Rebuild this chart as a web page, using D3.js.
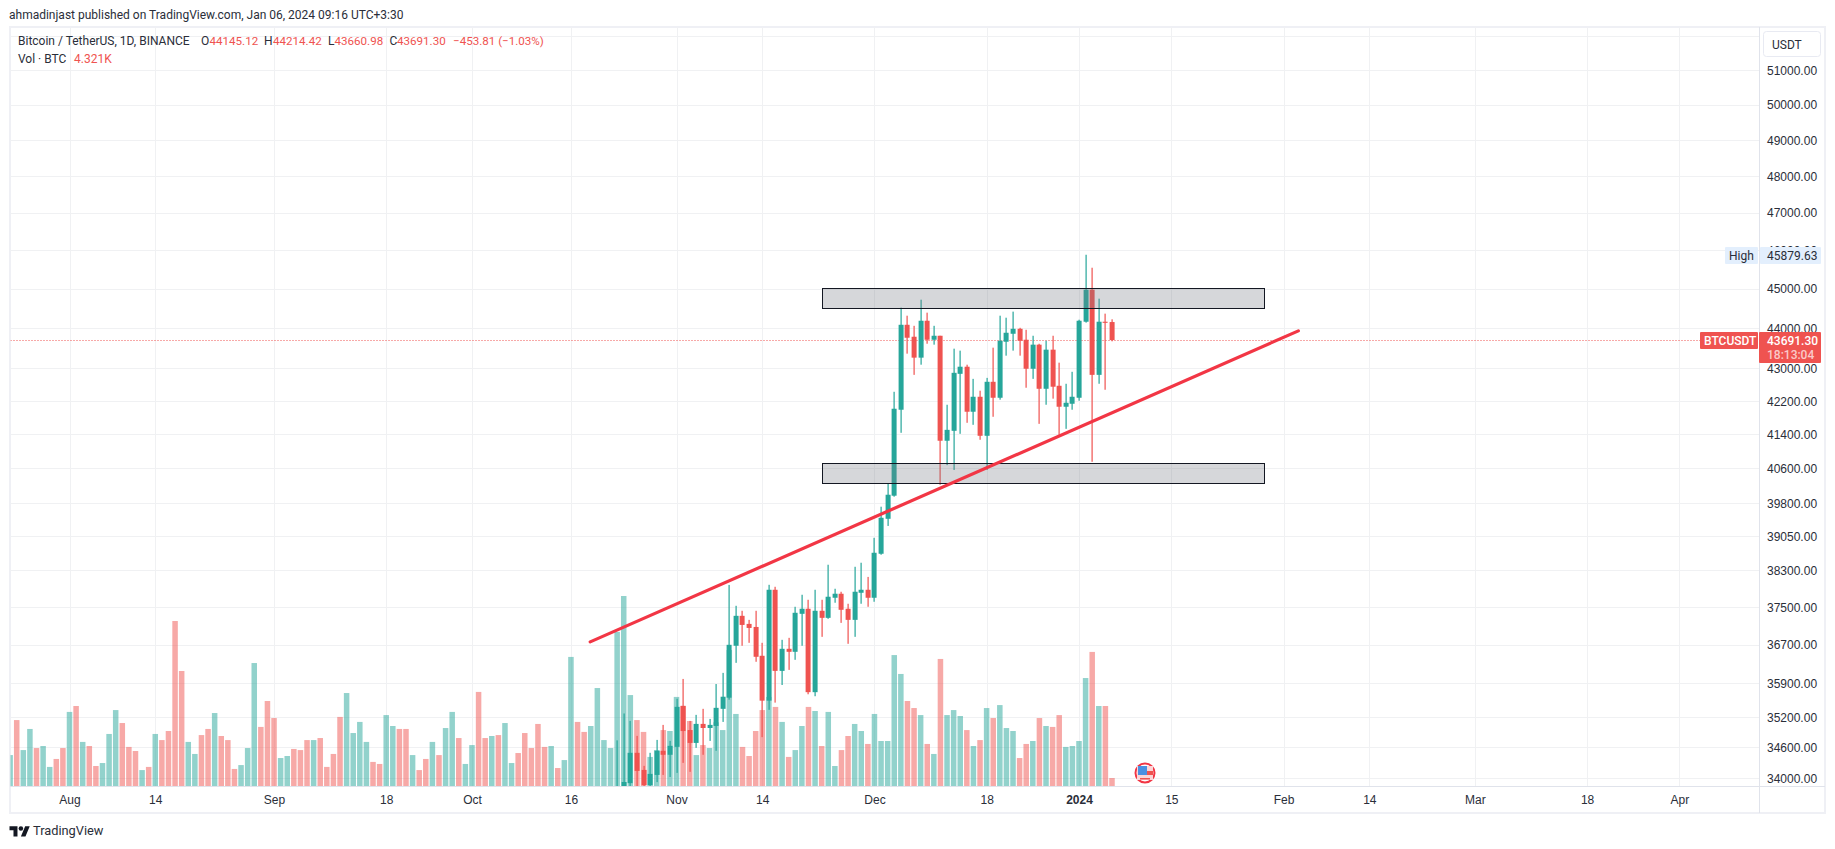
<!DOCTYPE html>
<html>
<head>
<meta charset="utf-8">
<title>BTCUSDT</title>
<script src="https://cdn.jsdelivr.net/npm/d3@7"></script>
<style>
html, body { margin: 0; padding: 0; background: #fff; overflow: hidden; }
svg { display: block; font-family: Roboto, sans-serif; font-size: 12px; }
.axis text { fill: #2a2e39; font-size: 12px; }
.axis path, .axis line { display: none; }
</style>
</head>
<body>
<svg width="1835" height="849"></svg>
<script>
// volume in thousands of BTC, one per day from 2023-07-23 to 2024-01-06
var volumeStart = "2023-07-23";
var volumes = [
  16.7,35.6,19.4,30.8,20.5,21.6,10.3,14.6,20.5,
  40,43.2,23.8,21.6,10.8,12.4,28.1,41,34,21.1,18.9,8.6,10.3,28.1,24.8,29.7,89.1,62.1,23.8,17.3,27.5,30.8,39.4,27,24.8,9.2,11.3,20.5,66.4,31.9,45.9,
  36.7,15.1,16.2,20,19.4,24.8,24.8,25.9,10.3,17.3,37.3,50.2,28.6,34.6,23.8,13,11.9,38.3,32.4,30.8,30.8,16.7,8.6,14.6,23.8,16.7,31.3,40,25.9,11.9,
  22.1,50.8,25.9,27,27.5,34,12.4,17.8,28.6,20.5,33.5,21.1,21.6,9.7,14,69.7,34.6,29.2,32.4,52.9,24.8,20.5,83.2,102.6,49.1,35.6,29.2,15.7,19.4,30.2,29.7,
  48.1,43.2,35.1,16.7,22.1,20.5,34.4,30.2,73.4,38.9,21.1,16.2,29.7,41,48.1,42.7,34.6,15.7,19.4,32.4,42.7,40.5,21.6,40,10.8,19.4,27,33.5,29.7,22.7,
  38.9,24.3,24.3,70.7,60.5,45.9,42.1,38.3,22.7,17.3,68.6,38.3,41,37.8,30.2,21.6,24.8,42.1,36.7,43.7,31.3,29.7,15.1,22.7,24.3,36.7,32.4,31.9,38.3,21.1,21.6,
  24.3,58.3,72.4,43.2,43.2,4.321
];
// t = up day, r = down day, same order as volumes
var volumeSides = ("trttrttrr" +
  "trtrrtttrrrtrtrrrrttrrtrrrtttrr" +
  "rttrrrtrrrrttttrrttrrtrrtrttrt" +
  "trrtrttrrrrrtrttrrttttttt" + "rrttrt" +
  "trrtrtttttrrrrtrtrttrtrttrrttr" +
  "tttttrrtrtrtttrtrtrtttrrtrtrrtt" +
  "ttrtrr").split("");

// candles, one per day from 2023-10-23 to 2024-01-06
var candleStart = "2023-10-23";
var opens = [
  33000,33069,33900,34494,34158,33862,34060,34534,34455,
  34612,35435,34947,34690,35070,34988,35029,35374,35600,36675,37309,37137,37072,36465,35540,37870,36151,36611,36548,37352,37460,35713,37417,37266,37697,37784,37460,37223,37805,37870,
  37697,38659,39441,39966,41983,44076,43775,43254,44178,43700,43800,41244,41479,42855,43030,41935,42296,41361,42660,42272,43650,43850,43975,43700,42980,43577,42490,43452,42563,42055,42127,
  42272,44153,44972,42830,44153,44145.12
];
var highs = [
  34741,35280,35130,34830,34237,34494,34750,35050,34730,
  35578,35985,35130,35252,35374,35170,35880,36110,37975,37524,37417,37223,37417,36737,37978,37935,36800,36842,37503,37762,37654,37870,37654,38417,37892,37827,37568,38372,38461,38150,
  39014,39715,40240,42417,44511,44306,44050,44714,44383,44050,43800,42103,43477,43428,43080,42732,42443,42756,43502,44306,44255,44409,44000,43950,43800,43600,43675,43800,43130,42612,42905,
  44204,45879.63,45540,44740,44358,44214.42
];
var lows = [
  32900,32832,33700,33726,33800,33820,33920,34060,34020,
  34100,34296,34120,34592,34455,34730,34534,35110,35560,36318,36675,36737,36340,34805,35354,35500,35860,36172,36381,36675,35670,35630,36863,37245,37590,37159,36716,36863,37568,37503,
  37611,38637,39280,39943,41432,43353,42830,43080,43600,43577,40216,40672,40560,41408,41670,41622,41267,40560,41814,42225,43303,43428,43303,42515,42732,41645,42103,42250,41385,41526,41983,
  42200,44130,40750,42612,42466,43660.98
];
var closes = [
  33070,33922,34494,34138,33862,34080,34534,34455,34632,
  35414,34927,34690,35070,34988,35050,35394,35620,36695,37309,37115,37051,36444,35540,37870,36151,36611,36548,37374,37460,35713,37417,37266,37719,37784,37438,37223,37827,37870,37697,
  38681,39464,39988,42007,44076,43750,43254,44178,43700,43800,41244,41502,42880,43030,41935,42296,41361,42660,42272,43675,43875,43975,43675,42980,43577,42490,43452,42540,42055,42151,42296,
  44178,44972,42830,44153,44125,43691.30
];

var priceTicks = [51000,50000,49000,48000,47000,46000,45000,44000,43000,42200,41400,40600,39800,39050,38300,37500,36700,35900,35200,34600,34000];
var gridOnlyPrices = [52000];
var timeTickDates = ["2023-08-01","2023-08-14","2023-09-01","2023-09-18","2023-10-01","2023-10-16","2023-11-01","2023-11-14","2023-12-01","2023-12-18","2024-01-01","2024-01-15","2024-02-01","2024-02-14","2024-03-01","2024-03-18","2024-04-01"];
var timeTickLabels = ["Aug","14","Sep","18","Oct","16","Nov","14","Dec","18","2024","15","Feb","14","Mar","18","Apr"];

var zoneDates = ["2023-11-23","2024-01-29"];
var upperZone = [45023, 44511];
var lowerZone = [40728, 40262];
var trendDates = ["2023-10-18T22:00:00Z","2024-02-03T06:00:00Z"];
var trendPrices = [36757, 43922];
var lastPrice = 43691.30;
var highPrice = 45879.63;

var teal = "#26a69a", red = "#ef5350", ink = "#2a2e39", gridColor = "#f0f1f3";

var parse = d3.utcParse("%Y-%m-%d");
var svg = d3.select("svg");

var left = 10.5, right = 1759, top_ = 27, bottom = 786;

var x = d3.scaleUtc().domain([parse("2023-08-01"), parse("2024-01-01")]).range([69.5, 1079]);
var y = d3.scaleLog().domain([34000, 51000]).range([778, 70]);
var v = d3.scaleLinear().domain([0, 102.6]).range([bottom, bottom - 190]);

function crisp(n) { return Math.round(n) + 0.5; }

var defs = svg.append("defs");
defs.append("clipPath").attr("id", "pane").append("rect")
  .attr("x", left).attr("y", top_).attr("width", right - left).attr("height", bottom - top_);

// frame
svg.append("rect").attr("x", 10).attr("y", 27).attr("width", 1815).attr("height", 786)
  .attr("fill", "#fff").attr("stroke", "#eff0f5").attr("stroke-width", 2);

var pane = svg.append("g").attr("clip-path", "url(#pane)");

// grid
pane.selectAll(".gy").data(priceTicks.concat(gridOnlyPrices)).enter().append("line")
  .attr("x1", left).attr("x2", right)
  .attr("y1", function(d) { return crisp(y(d)); })
  .attr("y2", function(d) { return crisp(y(d)); })
  .attr("stroke", gridColor);
pane.selectAll(".gx").data(timeTickDates).enter().append("line")
  .attr("x1", function(d) { return crisp(x(parse(d))); })
  .attr("x2", function(d) { return crisp(x(parse(d))); })
  .attr("y1", top_).attr("y2", bottom)
  .attr("stroke", gridColor);

// volume
var volDays = d3.utcDay.range(parse(volumeStart), d3.utcDay.offset(parse(volumeStart), volumes.length));
pane.selectAll(".vol").data(volumes).enter().append("rect")
  .attr("class", "vol")
  .attr("x", function(d, i) { return x(volDays[i]) - 2.75; })
  .attr("width", 5.5)
  .attr("y", function(d) { return v(d); })
  .attr("height", function(d) { return bottom - v(d); })
  .attr("fill", function(d, i) { return volumeSides[i] == "t" ? teal : red; })
  .attr("fill-opacity", 0.5);

// last price line
pane.append("line")
  .attr("x1", left).attr("x2", right).attr("y1", crisp(y(lastPrice))).attr("y2", crisp(y(lastPrice)))
  .attr("stroke", red).attr("stroke-dasharray", "1 2");

// candles
var candleDays = d3.utcDay.range(parse(candleStart), d3.utcDay.offset(parse(candleStart), opens.length));
var candle = pane.selectAll(".candle").data(opens).enter().append("g").attr("class", "candle")
  .attr("fill", function(d, i) { return closes[i] >= d ? teal : red; });
candle.append("rect")
  .attr("x", function(d, i) { return Math.round(x(candleDays[i])) - 0.5; })
  .attr("width", 1.2)
  .attr("y", function(d, i) { return y(highs[i]); })
  .attr("height", function(d, i) { return y(lows[i]) - y(highs[i]); });
candle.append("rect")
  .attr("x", function(d, i) { return Math.round(x(candleDays[i])) - 2.4; })
  .attr("width", 5)
  .attr("y", function(d, i) { return y(Math.max(d, closes[i])); })
  .attr("height", function(d, i) { return Math.max(1, y(Math.min(d, closes[i])) - y(Math.max(d, closes[i]))); });

// rectangles
[upperZone, lowerZone].forEach(function(z) {
  pane.append("rect")
    .attr("x", crisp(x(parse(zoneDates[0]))))
    .attr("width", crisp(x(parse(zoneDates[1]))) - crisp(x(parse(zoneDates[0]))))
    .attr("y", crisp(y(z[0])))
    .attr("height", crisp(y(z[1])) - crisp(y(z[0])))
    .attr("fill", "#787b86").attr("fill-opacity", 0.3)
    .attr("stroke", "#131722").attr("stroke-width", 1);
});

// trend line
pane.append("line")
  .attr("x1", x(new Date(trendDates[0]))).attr("y1", y(trendPrices[0]))
  .attr("x2", x(new Date(trendDates[1]))).attr("y2", y(trendPrices[1]))
  .attr("stroke", "#f23645").attr("stroke-width", 3.2).attr("stroke-linecap", "round");

// price scale
svg.append("line").attr("x1", right + 0.5).attr("x2", right + 0.5).attr("y1", 27).attr("y2", 813).attr("stroke", "#e0e3eb");
svg.append("line").attr("x1", 10).attr("x2", 1825).attr("y1", bottom + 0.5).attr("y2", bottom + 0.5).attr("stroke", "#e0e3eb");

svg.append("g").attr("class", "axis")
  .attr("transform", "translate(1767,0.5)")
  .call(d3.axisRight(y).tickValues(priceTicks).tickSize(0).tickPadding(0).tickFormat(d3.format(".2f")));

svg.append("g").attr("class", "axis")
  .attr("transform", "translate(0,795)")
  .call(d3.axisBottom(x).tickValues(timeTickDates.map(parse)).tickSize(0).tickPadding(0)
    .tickFormat(function(d, i) { return timeTickLabels[i]; }))
  .selectAll("text").attr("font-weight", function(d, i) { return timeTickLabels[i] == "2024" ? 600 : 400; });

function label(px, py, txt, color, size, weight) {
  return svg.append("text").attr("x", px).attr("y", py).attr("dy", "0.35em")
    .attr("fill", color || ink).attr("font-size", size || 12).attr("font-weight", weight || 400).text(txt);
}

// currency button
svg.append("rect").attr("x", 1763.5).attr("y", 31.5).attr("width", 57).attr("height", 25).attr("rx", 3)
  .attr("fill", "#fff").attr("stroke", "#e8eaf2").attr("stroke-width", 1);
label(1772, 44.5, "USDT");

// high tag
svg.append("rect").attr("x", 1725).attr("y", 247).attr("width", 33).attr("height", 17).attr("rx", 1).attr("fill", "#e3effd");
svg.append("rect").attr("x", 1760).attr("y", 247).attr("width", 61).attr("height", 17).attr("rx", 1).attr("fill", "#e3effd");
label(1729, 255.5, "High");
label(1767, 255.5, d3.format(".2f")(highPrice));

// last price tags
svg.append("rect").attr("x", 1700).attr("y", 332).attr("width", 58).attr("height", 17).attr("rx", 1).attr("fill", red);
svg.append("rect").attr("x", 1759).attr("y", 332).attr("width", 62).attr("height", 31).attr("rx", 1).attr("fill", red);
label(1704, 340.5, "BTCUSDT", "#fff", 12, 500);
label(1767, 340.5, d3.format(".2f")(lastPrice), "#fff", 12, 500);
label(1767, 355, "18:13:04", "#fff", 12, 500).attr("fill-opacity", 0.7);

// header and legend
label(9, 14.5, "ahmadinjast published on TradingView.com, Jan 06, 2024 09:16 UTC+3:30");
label(18, 41, "Bitcoin / TetherUS, 1D, BINANCE");
label(201, 41, "O");
label(209.5, 41, "44145.12", red, 11.6);
label(264, 41, "H");
label(273, 41, "44214.42", red, 11.6);
label(328, 41, "L");
label(334.5, 41, "43660.98", red, 11.6);
label(389.5, 41, "C");
label(397, 41, "43691.30", red, 11.6);
label(453, 41, "\u2212453.81 (\u22121.03%)", red, 11.6);
label(18, 59, "Vol \u00b7 BTC");
label(74, 59, "4.321K", red);

// flag marker
var flag = svg.append("g").attr("transform", "translate(1145,773)");
flag.append("circle").attr("r", 9.5).attr("fill", "#fff").attr("stroke", "#f23645").attr("stroke-width", 2);
flag.append("rect").attr("x", -8).attr("y", -7).attr("width", 16).attr("height", 14).attr("fill", "#fbd5d7");
flag.append("rect").attr("x", -7).attr("y", -7).attr("width", 9).attr("height", 9).attr("fill", "#4a90e2");
flag.append("rect").attr("x", 2).attr("y", -2).attr("width", 6).attr("height", 4).attr("fill", "#ef5350");
flag.append("rect").attr("x", -5).attr("y", 5).attr("width", 10).attr("height", 1.5).attr("fill", "#ef5350");

// logo
var logo = svg.append("g").attr("transform", "translate(9.5,824) scale(0.57)").attr("fill", "#131722");
logo.append("path").attr("d", "M14 22H7V11H0V4h14v18zM28 22h-8l7.5-18h8L28 22z");
logo.append("circle").attr("cx", 20).attr("cy", 8).attr("r", 4);
label(33, 831, "TradingView", "#2a2e39", 12.8);
</script>
</body>
</html>
